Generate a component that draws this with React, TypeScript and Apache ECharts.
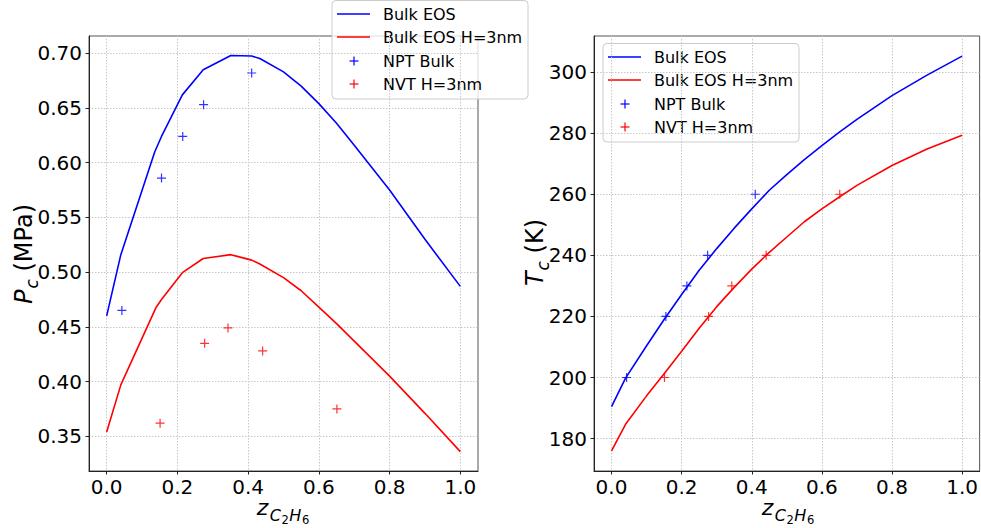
import React, { useEffect, useRef } from "react";
import * as echarts from "echarts";

// ---------- data ----------
const SERIES_NAMES = ["Bulk EOS", "Bulk EOS H=3nm", "NPT Bulk", "NVT H=3nm"];
const X_TICKS = [0, 0.2, 0.4, 0.6, 0.8, 1.0];
const PC_TICKS = [0.35, 0.4, 0.45, 0.5, 0.55, 0.6, 0.65, 0.7];
const TC_TICKS = [180, 200, 220, 240, 260, 280, 300];

// Left panel: critical pressure (MPa)
const pcBulkX = [0, 0.04, 0.136, 0.155, 0.214, 0.273, 0.351, 0.41, 0.433, 0.5, 0.55, 0.6, 0.65, 0.7, 0.8, 0.9, 1.0];
const pcBulkY = [0.46, 0.516, 0.61, 0.624, 0.662, 0.685, 0.698, 0.6975, 0.6952, 0.683, 0.67, 0.654, 0.636, 0.616, 0.575, 0.53, 0.487];
const pcPoreX = [0, 0.04, 0.14, 0.155, 0.214, 0.273, 0.351, 0.41, 0.433, 0.5, 0.55, 0.6, 0.65, 0.7, 0.8, 0.9, 1.0];
const pcPoreY = [0.354, 0.397, 0.468, 0.475, 0.4995, 0.5125, 0.516, 0.511, 0.5075, 0.495, 0.483, 0.468, 0.453, 0.437, 0.405, 0.371, 0.336];
const nptX = [0.043, 0.155, 0.215, 0.274, 0.41];
const nptPc = [0.465, 0.586, 0.624, 0.653, 0.682];
const nvtX = [0.151, 0.277, 0.343, 0.441, 0.651];
const nvtPc = [0.362, 0.435, 0.449, 0.428, 0.375];

// Right panel: critical temperature (K)
const tcEosX = [0, 0.04, 0.1, 0.15, 0.2, 0.25, 0.3, 0.35, 0.4, 0.45, 0.5, 0.55, 0.6, 0.65, 0.7, 0.8, 0.9, 1.0];
const tcBulkY = [190.5, 199.8, 210.4, 219.0, 227.2, 235.1, 242.2, 248.9, 255.2, 261.3, 266.4, 271.3, 275.9, 280.3, 284.5, 292.3, 299.0, 305.2];
const tcPoreY = [176, 184.7, 194, 201.2, 208.6, 216.1, 223.2, 229.5, 235.5, 241, 246, 251, 255.2, 259.1, 262.9, 269.4, 274.8, 279.3];
const nptTc = [200, 220, 230, 240, 260];
const nvtTc = [200, 220, 230, 240, 260];

const COLORS = ["#0000ff", "#ff0000", "#0000ff", "#ff0000"];

const zip = (xs: number[], ys: number[]) => xs.map((x, i) => [x, ys[i]]);

const FONT = "DejaVu Sans";
const PLUS = "path://M0,5L10,5M5,0L5,10";

function xAxis(gridIndex: number) {
  return {
    type: "value",
    gridIndex,
    min: -0.05,
    max: 1.05,
    axisLine: { show: true, onZero: false, lineStyle: { color: "#222", width: 1 } },
    axisTick: { show: true, inside: false, length: 3.5, lineStyle: { color: "#222", width: 1 }, customValues: X_TICKS },
    axisLabel: { customValues: X_TICKS, formatter: (v: number) => v.toFixed(1), fontSize: 20, lineHeight: 17, color: "#000", fontFamily: FONT, margin: 7 },
    splitLine: { show: true, lineStyle: { type: [1.5, 1.5], color: "#c8c8c8", width: 1 } },
  };
}

function yAxis(gridIndex: number, min: number, max: number, ticks: number[], dec: number) {
  return {
    type: "value",
    gridIndex,
    min,
    max,
    axisLine: { show: true, onZero: false, lineStyle: { color: "#222", width: 1 } },
    axisTick: { show: true, inside: false, length: 3.5, lineStyle: { color: "#222", width: 1 }, customValues: ticks },
    axisLabel: { customValues: ticks, formatter: (v: number) => v.toFixed(dec), fontSize: 20, color: "#000", fontFamily: FONT, margin: 7 },
    splitLine: { show: true, lineStyle: { type: [1.5, 1.5], color: "#c8c8c8", width: 1 } },
  };
}

function lineSeries(name: string, color: string, data: number[][], xi: number) {
  return {
    type: "line",
    name,
    xAxisIndex: xi,
    yAxisIndex: xi,
    data,
    symbol: "none",
    smooth: false,
    lineStyle: { color, width: 1.6 },
    z: 3,
  };
}

function plusSeries(name: string, color: string, data: number[][], xi: number) {
  return {
    type: "scatter",
    name,
    xAxisIndex: xi,
    yAxisIndex: xi,
    data,
    symbol: PLUS,
    symbolSize: 9,
    itemStyle: { color: "rgba(0,0,0,0)", borderColor: color, borderWidth: 1.2 },
    z: 4,
  };
}

function legendGroup(left: number, top: number) {
  const rows = [13.5, 36.5, 60.5, 83.5];
  const children: any[] = [
    {
      type: "rect",
      shape: { x: 0, y: 0, width: 196, height: 98.5, r: 4 },
      style: { fill: "rgba(255,255,255,0.8)", stroke: "#cccccc", lineWidth: 1 },
    },
  ];
  SERIES_NAMES.forEach((name, i) => {
    const y = rows[i];
    if (i < 2) {
      children.push({ type: "line", shape: { x1: 5, y1: y, x2: 38, y2: y }, style: { stroke: COLORS[i], lineWidth: 1.6 } });
    } else {
      children.push({ type: "line", shape: { x1: 17.5, y1: y, x2: 26.5, y2: y }, style: { stroke: COLORS[i], lineWidth: 1.2 } });
      children.push({ type: "line", shape: { x1: 22, y1: y - 4.5, x2: 22, y2: y + 4.5 }, style: { stroke: COLORS[i], lineWidth: 1.2 } });
    }
    children.push({
      type: "text",
      x: 51,
      y,
      style: { text: name, fontSize: 16, fontFamily: FONT, fill: "#000", align: "left", verticalAlign: "middle" },
    });
  });
  return { type: "group", x: left, y: top, z: 100, children };
}

// ---------- math-style axis titles built from pieces ----------
type Piece = { t: string; fs: number; it: boolean; dy: number; gap?: number };

let measureCtx: CanvasRenderingContext2D | null = null;
function measure(p: Piece) {
  if (!measureCtx) measureCtx = document.createElement("canvas").getContext("2d");
  const g = p.gap || 0;
  if (!measureCtx) return p.t.length * p.fs * 0.6 + g;
  measureCtx.font = `${p.it ? "italic " : ""}${p.fs}px "${FONT}"`;
  return measureCtx.measureText(p.t).width + g;
}

function mathLabel(pieces: Piece[], cx: number, cy: number, baseline: number, vertical: boolean) {
  const widths = pieces.map(measure);
  const total = widths.reduce((a, b) => a + b, 0);
  let off = -total / 2;
  const out: any[] = [];
  pieces.forEach((p, i) => {
    const along = off;
    off += widths[i];
    if (!p.t.trim()) return;
    const across = baseline + p.dy - 0.346 * p.fs;
    const style = {
      text: p.t,
      fontSize: p.fs,
      lineHeight: Math.round(p.fs * 0.8),
      fontStyle: p.it ? "italic" : "normal",
      fontFamily: FONT,
      fill: "#000",
      align: "left",
      verticalAlign: "middle",
    };
    if (!vertical) {
      out.push({ type: "text", x: cx + along, y: across, z: 100, style });
    } else {
      out.push({ type: "text", x: across, y: cy - along, rotation: Math.PI / 2, z: 100, style });
    }
  });
  return out;
}

const zLabel: Piece[] = [
  { t: "z", fs: 22, it: true, dy: 0, gap: 1.5 },
  { t: "C", fs: 16, it: true, dy: 6, gap: 0.5 },
  { t: "2", fs: 11.5, it: false, dy: 8.5, gap: 0.5 },
  { t: "H", fs: 16, it: true, dy: 6, gap: 0.5 },
  { t: "6", fs: 11.5, it: false, dy: 8.5 },
];
const pLabel: Piece[] = [
  { t: "P", fs: 24, it: true, dy: 0, gap: 1 },
  { t: "c", fs: 17, it: true, dy: 5.5 },
  { t: " ", fs: 24, it: false, dy: 0 },
  { t: "(MPa)", fs: 24, it: false, dy: 0 },
];
const tLabel: Piece[] = [
  { t: "T", fs: 24, it: true, dy: 0, gap: 1 },
  { t: "c", fs: 17, it: true, dy: 5.5 },
  { t: " ", fs: 24, it: false, dy: 0 },
  { t: "(K)", fs: 24, it: false, dy: 0 },
];

export default function App() {
  const ref = useRef<HTMLDivElement>(null);
  useEffect(() => {
    document.body.style.margin = "0";
    if (!ref.current) return;
    const chart = echarts.init(ref.current, undefined, { renderer: "svg" });
    chart.setOption({
      animation: false,
      backgroundColor: "#ffffff",
      textStyle: { fontFamily: FONT },
      grid: [
        { left: 89, top: 36, width: 389, height: 435, show: true, borderColor: "#555", borderWidth: 1, backgroundColor: "transparent" },
        { left: 594, top: 36, width: 389, height: 435, show: true, borderColor: "#555", borderWidth: 1, backgroundColor: "transparent" },
      ],
      xAxis: [xAxis(0), xAxis(1)],
      yAxis: [yAxis(0, 0.3183, 0.7158, PC_TICKS, 2), yAxis(1, 169.4, 311.8, TC_TICKS, 0)],
      series: [
        lineSeries(SERIES_NAMES[0], COLORS[0], zip(pcBulkX, pcBulkY), 0),
        lineSeries(SERIES_NAMES[1], COLORS[1], zip(pcPoreX, pcPoreY), 0),
        plusSeries(SERIES_NAMES[2], COLORS[2], zip(nptX, nptPc), 0),
        plusSeries(SERIES_NAMES[3], COLORS[3], zip(nvtX, nvtPc), 0),
        lineSeries(SERIES_NAMES[0], COLORS[0], zip(tcEosX, tcBulkY), 1),
        lineSeries(SERIES_NAMES[1], COLORS[1], zip(tcEosX, tcPoreY), 1),
        plusSeries(SERIES_NAMES[2], COLORS[2], zip(nptX, nptTc), 1),
        plusSeries(SERIES_NAMES[3], COLORS[3], zip(nvtX, nvtTc), 1),
      ],
      graphic: [
        legendGroup(332, 0.5),
        legendGroup(603, 43.5),
        ...mathLabel(zLabel, 283, 0, 515, false),
        ...mathLabel(zLabel, 788, 0, 515, false),
        ...mathLabel(pLabel, 0, 254, 32, true),
        ...mathLabel(tLabel, 0, 252.5, 543, true),
      ],
    });
    return () => chart.dispose();
  }, []);
  return <div ref={ref} style={{ position: "absolute", left: 0, top: 0, width: 981, height: 528 }} />;
}
